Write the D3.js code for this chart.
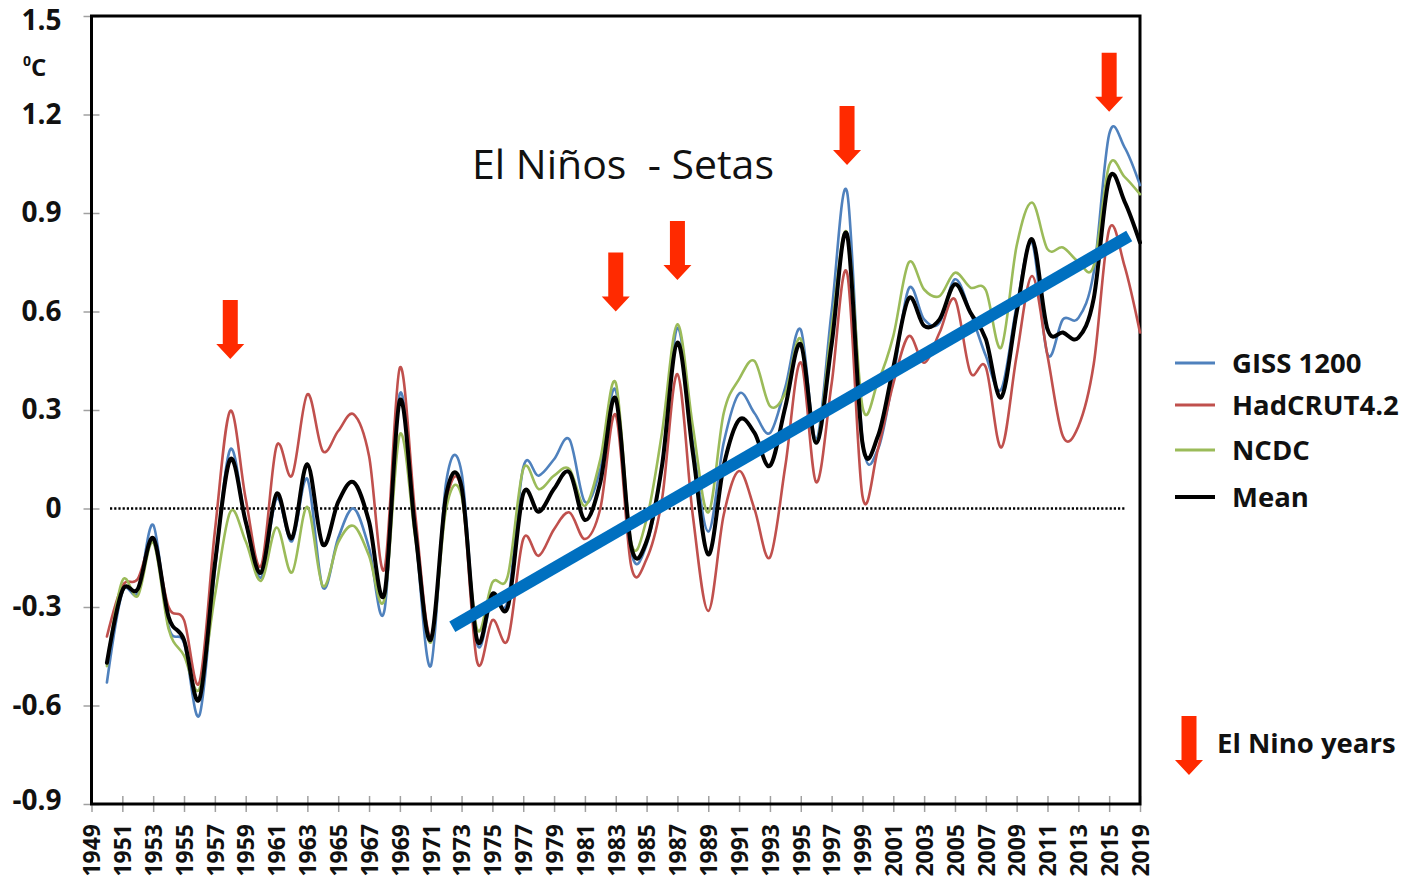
<!DOCTYPE html>
<html>
<head>
<meta charset="utf-8">
<script src="https://cdn.jsdelivr.net/npm/d3@7"></script>
<style>
  html, body { margin: 0; padding: 0; background: #ffffff; }
  svg { display: block; }
</style>
</head>
<body>
<svg id="chart" width="1404" height="879"></svg>
<script>
// Annual temperature anomalies (°C) for three datasets and their mean
const years = [1950,1951,1952,1953,1954,1955,1956,1957,1958,1959,
               1960,1961,1962,1963,1964,1965,1966,1967,1968,1969,
               1970,1971,1972,1973,1974,1975,1976,1977,1978,1979,
               1980,1981,1982,1983,1984,1985,1986,1987,1988,1989,
               1990,1991,1992,1993,1994,1995,1996,1997,1998,1999,
               2000,2001,2002,2003,2004,2005,2006,2007,2008,2009,
               2010,2011,2012,2013,2014,2015,2016,2017];

const giss = [-0.53,-0.255,-0.255,-0.05,-0.36,-0.41,-0.63,-0.19,0.18,-0.04,
              -0.21,0.03,-0.10,0.09,-0.24,-0.09,0.0,-0.12,-0.31,0.35,
              -0.07,-0.48,0.08,0.11,-0.41,-0.27,-0.28,0.125,0.10,0.15,
              0.21,0.02,0.12,0.36,-0.13,-0.11,0.13,0.55,0.20,-0.07,
              0.20,0.35,0.29,0.23,0.37,0.545,0.21,0.60,0.965,0.21,
              0.18,0.40,0.67,0.576,0.566,0.698,0.597,0.465,0.363,0.617,
              0.81,0.47,0.576,0.58,0.72,1.14,1.10,0.985];

const hadcrut = [-0.39,-0.236,-0.215,-0.10,-0.30,-0.34,-0.53,-0.07,0.297,0.03,
                 -0.175,0.19,0.10,0.348,0.175,0.236,0.287,0.16,-0.185,0.429,
                 -0.02,-0.39,0.02,0.054,-0.465,-0.34,-0.40,-0.093,-0.144,-0.063,
                 -0.012,-0.093,0.0,0.285,-0.175,-0.154,0.028,0.409,-0.022,-0.312,
                 -0.02,0.114,-0.002,-0.149,0.13,0.445,0.08,0.38,0.718,0.038,
                 0.18,0.38,0.525,0.444,0.536,0.637,0.414,0.43,0.186,0.465,
                 0.708,0.465,0.22,0.25,0.44,0.85,0.738,0.536];

const ncdc = [-0.48,-0.22,-0.266,-0.103,-0.367,-0.448,-0.55,-0.266,-0.01,-0.10,
              -0.22,-0.058,-0.195,0.005,-0.236,-0.103,-0.053,-0.144,-0.276,0.226,
              -0.09,-0.408,0.0,0.038,-0.367,-0.225,-0.205,0.12,0.059,0.10,
              0.12,0.008,0.15,0.383,-0.103,-0.033,0.231,0.561,0.25,-0.012,
              0.29,0.394,0.449,0.312,0.353,0.516,0.20,0.55,0.84,0.31,
              0.385,0.525,0.749,0.667,0.647,0.718,0.673,0.665,0.49,0.80,
              0.932,0.79,0.795,0.752,0.74,1.045,1.01,0.957];

const mean = [-0.47,-0.25,-0.245,-0.09,-0.33,-0.40,-0.58,-0.17,0.15,-0.04,
              -0.195,0.045,-0.09,0.135,-0.11,0.02,0.08,-0.04,-0.26,0.33,
              -0.07,-0.40,0.04,0.065,-0.40,-0.26,-0.30,0.045,-0.01,0.06,
              0.11,-0.035,0.08,0.335,-0.115,-0.10,0.13,0.505,0.17,-0.14,
              0.13,0.27,0.23,0.13,0.31,0.50,0.20,0.50,0.835,0.20,
              0.22,0.43,0.64,0.556,0.576,0.683,0.597,0.516,0.338,0.597,
              0.82,0.546,0.536,0.52,0.64,1.005,0.935,0.81];

const seriesNames  = ["GISS 1200", "HadCRUT4.2", "NCDC", "Mean"];
const seriesColors = ["#4f81bd", "#c0504d", "#9bbb59", "#000000"];

// Category labels along the bottom axis
const tickLabels = ["1949","1951","1953","1955","1957","1959","1961","1963","1965",
                    "1967","1969","1971","1973","1975","1977","1979","1981","1983",
                    "1985","1987","1989","1991","1993","1995","1997","1999","2001",
                    "2003","2005","2007","2009","2011","2013","2015","2019"];
const xDomain = [1949, 2017];

const yTicks      = [-0.9, -0.6, -0.3, 0, 0.3, 0.6, 0.9, 1.2, 1.5];
const yTickLabels = ["-0.9", "-0.6", "-0.3", "0", "0.3", "0.6", "0.9", "1.2", "1.5"];

// El Niño years, marked by arrows whose tips sit at these levels
const elNinoYears      = [1958, 1983, 1987, 1998, 2015];
const elNinoArrowTips  = [0.455, 0.60, 0.696, 1.046, 1.208];

// Hand-drawn warming trend segment
const trendYears  = [1972.4, 2016.3];
const trendValues = [-0.36, 0.83];

// Zero reference line extent
const baselineYears = [1950.2, 2016.0];

// ---------------------------------------------------------------------------
const svg = d3.select("#chart");
const L = 91.5, R = 1140, T = 16, B = 804;

const x = d3.scaleLinear().domain(xDomain).range([L, R]);
const xCat = d3.scalePoint().domain(tickLabels).range([L, R]);
const y = d3.scaleLinear().domain([-0.9, 1.5]).range([B, T]);

const boldFont = "'Open Sans', 'DejaVu Sans', sans-serif";

// Left axis with crossing tick marks
const yAxis = d3.axisLeft(y)
  .tickValues(yTicks)
  .tickFormat((d, i) => yTickLabels[i])
  .tickSize(8)
  .tickPadding(22);

svg.append("g")
  .attr("transform", `translate(${L},0)`)
  .call(yAxis)
  .call(g => g.select(".domain").remove())
  .call(g => g.selectAll(".tick line")
      .attr("x1", -8).attr("x2", 8)
      .attr("stroke", "#a0a0a0").attr("stroke-width", 1.5))
  .call(g => g.selectAll(".tick text")
      .attr("font-family", boldFont)
      .attr("font-weight", 700)
      .attr("font-size", 28)
      .attr("fill", "#111")
      // outermost labels sit slightly inside the frame
      .attr("y", d => d === 1.5 ? 5 : (d === -0.9 ? -3 : 0)));

// Unit label
const unit = svg.append("text")
  .attr("x", 23).attr("y", 76)
  .attr("font-family", boldFont)
  .attr("font-weight", 700)
  .attr("fill", "#111");
unit.append("tspan").attr("font-size", 14).attr("dy", -10).text("0");
unit.append("tspan").attr("font-size", 24).attr("dy", 10).text("C");

// Bottom axis with rotated year labels
const xAxis = d3.axisBottom(xCat).tickSize(8).tickPadding(0);
svg.append("g")
  .attr("transform", `translate(0,${B})`)
  .call(xAxis)
  .call(g => g.select(".domain").remove())
  .call(g => g.selectAll(".tick line")
      .attr("y1", -8).attr("y2", 8)
      .attr("stroke", "#a0a0a0").attr("stroke-width", 1.5))
  .call(g => g.selectAll(".tick text")
      .attr("transform", "rotate(-90)")
      .attr("text-anchor", "end")
      .attr("x", -20).attr("y", 0).attr("dy", "0.36em")
      .attr("font-family", boldFont)
      .attr("font-weight", 700)
      .attr("font-size", 23)
      .attr("fill", "#111"));

// Plot frame
svg.append("rect")
  .attr("x", L).attr("y", T)
  .attr("width", R - L).attr("height", B - T)
  .attr("fill", "none")
  .attr("stroke", "#000")
  .attr("stroke-width", 3);

// Dotted zero line
svg.append("line")
  .attr("x1", x(baselineYears[0])).attr("x2", x(baselineYears[1]))
  .attr("y1", y(0)).attr("y2", y(0))
  .attr("stroke", "#000")
  .attr("stroke-width", 2.5)
  .attr("stroke-dasharray", "2.2 2");

// Smoothed series lines
const line = d3.line()
  .x((d, i) => x(years[i]))
  .y(d => y(d))
  .curve(d3.curveCardinal.tension(0));

const allSeries = [giss, hadcrut, ncdc, mean];
allSeries.forEach((s, k) => {
  svg.append("path")
    .datum(s)
    .attr("d", line)
    .attr("fill", "none")
    .attr("stroke", seriesColors[k])
    .attr("stroke-width", k === 3 ? 4 : 2.6)
    .attr("stroke-linejoin", "round")
    .attr("stroke-linecap", "round");
});

// Trend segment
svg.append("line")
  .attr("x1", x(trendYears[0])).attr("y1", y(trendValues[0]))
  .attr("x2", x(trendYears[1])).attr("y2", y(trendValues[1]))
  .attr("stroke", "#0070c0")
  .attr("stroke-width", 12);

// Down arrows
const arrowColor = "#ff2a00";
function arrowPath(cx, tip) {
  const sw = 7.5, hw = 14, hh = 15, len = 59;
  return `M${cx - sw},${tip - len} L${cx + sw},${tip - len} L${cx + sw},${tip - hh} ` +
         `L${cx + hw},${tip - hh} L${cx},${tip} L${cx - hw},${tip - hh} L${cx - sw},${tip - hh} Z`;
}
svg.append("g")
  .selectAll("path")
  .data(elNinoYears)
  .join("path")
  .attr("d", (d, i) => arrowPath(x(d), y(elNinoArrowTips[i])))
  .attr("fill", arrowColor);

// Title
svg.append("text")
  .attr("x", 472).attr("y", 179)
  .attr("font-family", "'Open Sans', 'Noto Sans', sans-serif")
  .attr("font-size", 41)
  .attr("fill", "#111")
  .style("white-space", "pre")
  .text("El Niños  - Setas");

// Legend
const legendY = [363, 405, 450, 497];
const legend = svg.append("g");
seriesNames.forEach((name, k) => {
  legend.append("line")
    .attr("x1", 1175).attr("x2", 1215)
    .attr("y1", legendY[k]).attr("y2", legendY[k])
    .attr("stroke", seriesColors[k])
    .attr("stroke-width", k === 3 ? 4 : 3);
  legend.append("text")
    .attr("x", 1232).attr("y", legendY[k])
    .attr("dy", "0.35em")
    .attr("font-family", boldFont)
    .attr("font-weight", 700)
    .attr("font-size", 27.5)
    .attr("fill", "#111")
    .text(name);
});

legend.append("path")
  .attr("d", arrowPath(1189, 775))
  .attr("fill", arrowColor);
legend.append("text")
  .attr("x", 1217).attr("y", 743)
  .attr("dy", "0.35em")
  .attr("font-family", boldFont)
  .attr("font-weight", 700)
  .attr("font-size", 27.5)
  .attr("fill", "#111")
  .text("El Nino years");
</script>
</body>
</html>
